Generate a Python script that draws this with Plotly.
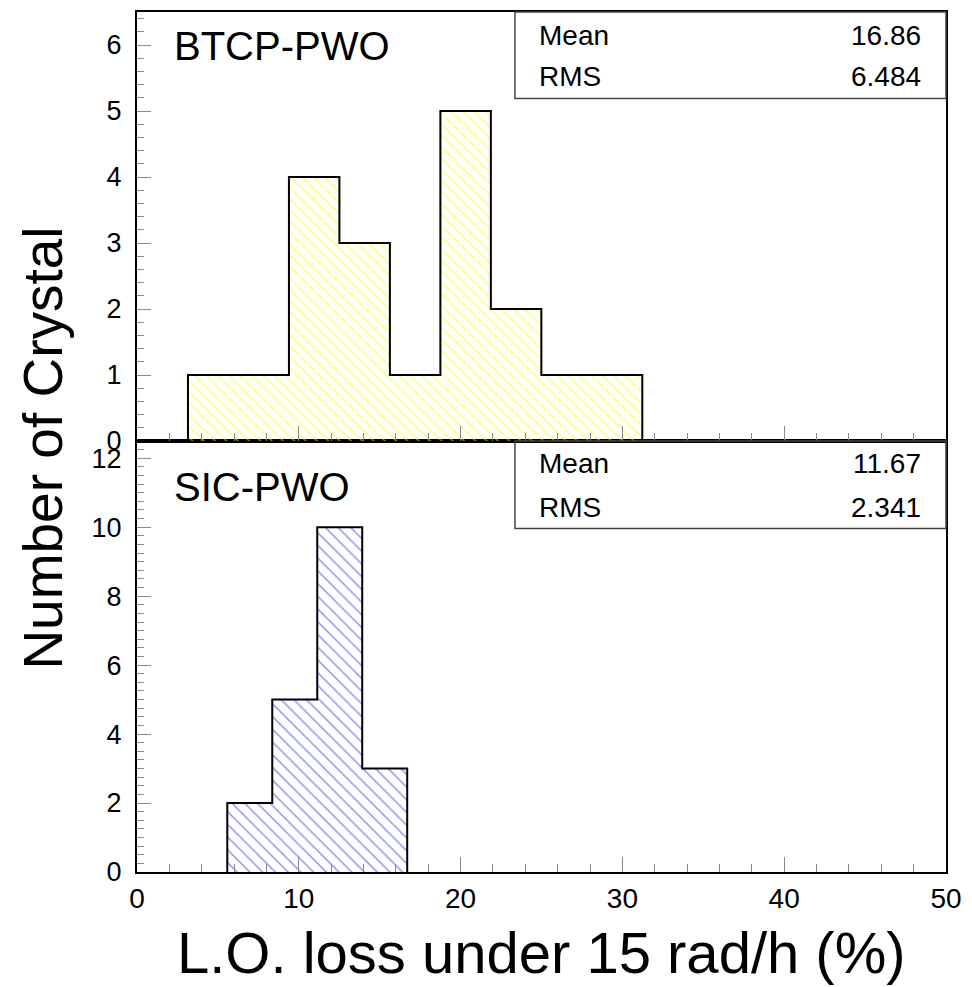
import plotly.graph_objects as go

# ---- data ----
btcp_edges = [3.15, 6.27, 9.39, 12.51, 15.63, 18.75, 21.87, 24.99, 28.11, 31.23]
btcp_counts = [1, 1, 4, 3, 1, 5, 2, 1, 1]
sic_edges = [5.58, 8.36, 11.14, 13.92, 16.70]
sic_counts = [2, 5, 10, 3]
btcp_stats = {"Mean": "16.86", "RMS": "6.484"}
sic_stats = {"Mean": "11.67", "RMS": "2.341"}
x_ticks = [0, 10, 20, 30, 40, 50]

FONT = "Liberation Sans, Arial, Helvetica, sans-serif"

fig = go.Figure()


def add_hist(edges, counts, xa, ya, fg, psize, sol):
    centers = [(a + b) / 2 for a, b in zip(edges[:-1], edges[1:])]
    widths = [b - a for a, b in zip(edges[:-1], edges[1:])]
    fig.add_trace(go.Bar(
        x=centers, y=counts, width=widths, xaxis=xa, yaxis=ya,
        marker=dict(color="rgba(255,255,255,0)", line=dict(width=0),
                    pattern=dict(shape="\\", fgcolor=fg, bgcolor="rgba(255,255,255,0)",
                                 size=psize, solidity=sol)),
        showlegend=False, hoverinfo="skip"))
    xs = [edges[0]] + list(edges)
    ys = [0] + list(counts) + [0]
    fig.add_trace(go.Scatter(
        x=xs, y=ys, mode="lines", line=dict(color="black", width=2, shape="hv"),
        xaxis=xa, yaxis=ya, showlegend=False, hoverinfo="skip"))


add_hist(btcp_edges, btcp_counts, "x2", "y2", "#ffff00", 8, 0.2)
add_hist(sic_edges, sic_counts, "x", "y", "#2020ff", 9, 0.17)

TICKC = "#888888"
common_x = dict(range=[0, 50], tickvals=x_ticks, ticks="inside", ticklen=15,
                tickcolor=TICKC, tickwidth=1, showgrid=False, zeroline=False,
                showline=True, linecolor="black", linewidth=2, mirror=True,
                minor=dict(ticks="inside", ticklen=8, dtick=2, tickcolor=TICKC,
                           tickwidth=1, showgrid=False))

dom_split = 432 / 862
fig.update_layout(
    width=972, height=987,
    margin=dict(l=137, r=26, t=10, b=115),
    paper_bgcolor="white", plot_bgcolor="white",
    font=dict(family=FONT, color="black"),
    barmode="overlay",
    xaxis=dict(**common_x, anchor="y", tickfont=dict(size=28, family=FONT)),
    xaxis2=dict(**common_x, anchor="y2", matches="x", showticklabels=False),
    yaxis=dict(domain=[0, dom_split], range=[0, 12.5], tickvals=[0, 2, 4, 6, 8, 10, 12],
               ticks="inside", ticklen=14, tickcolor=TICKC, showgrid=False, zeroline=False,
               showline=True, linecolor="black", linewidth=2, mirror=True,
               tickfont=dict(size=27, family=FONT), ticklabelstandoff=8,
               minor=dict(ticks="inside", ticklen=7, dtick=0.25, tickcolor=TICKC, showgrid=False)),
    yaxis2=dict(domain=[dom_split, 1], range=[0, 6.5], tickvals=[0, 1, 2, 3, 4, 5, 6],
                ticks="inside", ticklen=14, tickcolor=TICKC, showgrid=False, zeroline=False,
                showline=True, linecolor="black", linewidth=2, mirror=True,
                tickfont=dict(size=27, family=FONT), ticklabelstandoff=8,
                minor=dict(ticks="inside", ticklen=7, dtick=0.2, tickcolor=TICKC, showgrid=False)),
)

# stats boxes
for y0, y1 in [(0.8994, 1.0), (0.3994, 0.5012)]:
    fig.add_shape(type="rect", xref="paper", yref="paper", x0=0.4672, x1=1.0, y0=y0, y1=y1,
                  line=dict(color="#444444", width=1.5), fillcolor="rgba(0,0,0,0)")

annos = []
for stats, ym, yr in [(btcp_stats, 0.9722, 0.9246), (sic_stats, 0.4745, 0.4234)]:
    for (k, v), yy in zip(stats.items(), [ym, yr]):
        annos.append(dict(x=0.4944, y=yy, xref="paper", yref="paper", text=k, showarrow=False,
                          xanchor="left", yanchor="middle", font=dict(size=28)))
        annos.append(dict(x=0.9716, y=yy, xref="paper", yref="paper", text=v, showarrow=False,
                          xanchor="right", yanchor="middle", font=dict(size=28)))

annos.append(dict(x=0.0433, y=0.9606, xref="paper", yref="paper", text="BTCP-PWO", showarrow=False,
                  xanchor="left", yanchor="middle", font=dict(size=40)))
annos.append(dict(x=0.0433, y=0.4472, xref="paper", yref="paper", text="SIC-PWO", showarrow=False,
                  xanchor="left", yanchor="middle", font=dict(size=40)))
annos.append(dict(x=-0.116, y=0.4925, xref="paper", yref="paper", text="Number of Crystal",
                  showarrow=False, textangle=-90, xanchor="center", yanchor="middle",
                  font=dict(size=55)))
annos.append(dict(x=0.5, y=-0.094, xref="paper", yref="paper", text="L.O. loss under 15 rad/h (%)",
                  showarrow=False, xanchor="center", yanchor="middle", font=dict(size=58)))
fig.update_layout(annotations=annos)

fig.write_html("out.html")
